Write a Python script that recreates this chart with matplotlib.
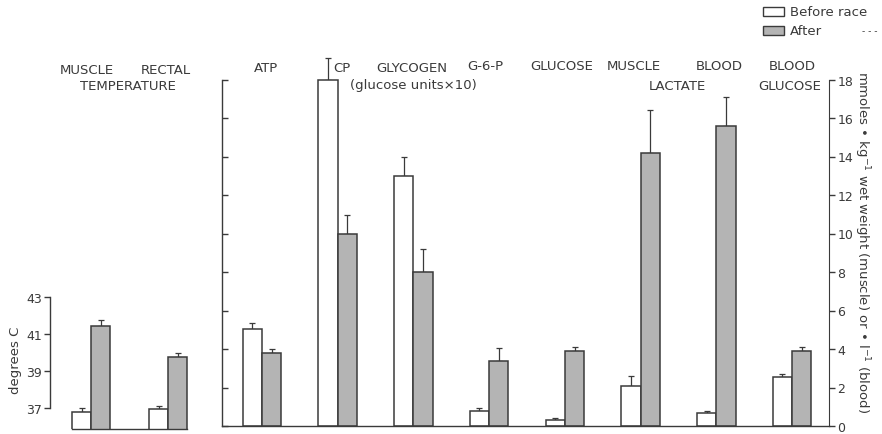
import matplotlib
matplotlib.use("Agg")
import matplotlib.pyplot as plt
from matplotlib.patches import Rectangle
import numpy as np

# ---- data ----
temp_sites = ["MUSCLE", "RECTAL"]
temp_before = [36.8, 36.95]
temp_before_err = [0.2, 0.17]
temp_after = [41.45, 39.74]
temp_after_err = [0.3, 0.23]
temp_ticks = [37, 39, 41, 43]

met_names = ["ATP", "CP", "GLYCOGEN", "G-6-P", "GLUCOSE",
             "MUSCLE LACTATE", "BLOOD LACTATE", "BLOOD GLUCOSE"]
met_before = [5.04, 18.0, 13.0, 0.78, 0.31, 2.08, 0.68, 2.55]
met_before_err = [0.31, 1.1, 1.0, 0.16, 0.11, 0.52, 0.10, 0.15]
met_after = [3.79, 10.0, 8.0, 3.38, 3.9, 14.2, 15.6, 3.9]
met_after_err = [0.21, 0.96, 1.2, 0.67, 0.2, 2.2, 1.5, 0.2]
met_ticks = list(range(0, 19, 2))

# ---- layout ----
W, H = 882, 435
INK = "#3a3a3a"
GREY = "#b4b4b4"
plt.rcParams["font.family"] = ["DejaVu Sans"]


def fx(x):
    return x / W


def fy(y):
    return (H - y) / H


fig = plt.figure(figsize=(W / 100, H / 100), dpi=100)


def draw_pairs(ax, before, b_err, after, a_err, w):
    x = np.arange(len(before))
    ax.bar(x - w / 2, before, w, color="white", edgecolor=INK, lw=1.1, zorder=2)
    ax.bar(x + w / 2, after, w, color=GREY, edgecolor=INK, lw=1.1, zorder=2)
    ax.errorbar(x - w / 2, before, yerr=[np.zeros(len(before)), b_err], fmt="none",
                ecolor=INK, elinewidth=0.9, capsize=2, capthick=0.9, zorder=1)
    ax.errorbar(x + w / 2, after, yerr=[np.zeros(len(after)), a_err], fmt="none",
                ecolor=INK, elinewidth=0.9, capsize=2, capthick=0.9, zorder=1)


# temperature panel
ax1 = fig.add_axes([fx(50), fy(430), fx(150), 140 / H])
w1 = 19 / 77
draw_pairs(ax1, temp_before, temp_before_err, temp_after, temp_after_err, w1)
ax1.set_xlim(-41 / 77, 1 + 32 / 77)
ax1.set_ylim(37 - 21 / 18.5, 37 + 119 / 18.5)
ax1.spines[["top", "right"]].set_visible(False)
ax1.spines["left"].set_bounds(37, 43)
ax1.spines["bottom"].set_bounds(-w1, 1 + w1)
for s in ax1.spines.values():
    s.set_color(INK)
    s.set_linewidth(1.0)
ax1.set_yticks(temp_ticks)
ax1.set_xticks([])
ax1.tick_params(axis="y", direction="out", length=4, width=1, color=INK,
                labelcolor=INK, labelsize=9, pad=2)

# metabolite panel
ax2 = fig.add_axes([fx(222), fy(427), fx(829 - 222), 372 / H])
w2 = 19.3 / 75.7
draw_pairs(ax2, met_before, met_before_err, met_after, met_after_err, w2)
ax2.set_xlim(-40 / 75.7, 7 + 37 / 75.7)
ax2.set_ylim(0, 372 / 19.25)
ax2.spines[["top", "right"]].set_visible(False)
ax2.spines["left"].set_bounds(0, 18)
for s in ax2.spines.values():
    s.set_color(INK)
    s.set_linewidth(1.0)
ax2.set_xticks([])
ax2.set_yticks(met_ticks)
ax2.tick_params(axis="y", direction="in", length=4, width=1, color=INK,
                labelleft=False)

ax3 = ax2.twinx()
ax3.set_ylim(ax2.get_ylim())
ax3.spines[["top", "left", "bottom"]].set_visible(False)
ax3.spines["right"].set_bounds(0, 18)
ax3.spines["right"].set_color(INK)
ax3.set_yticks(met_ticks)
ax3.tick_params(axis="y", direction="out", length=4, width=1, color=INK,
                labelcolor=INK, labelsize=9, pad=2)

# headers (text, x px, y px)
headers = [
    ("MUSCLE", 87, 70), ("RECTAL", 166, 70), ("TEMPERATURE", 128, 87),
    ("ATP", 266, 68), ("CP", 342, 68), ("GLYCOGEN", 412, 68),
    ("(glucose units\u00d710)", 413, 85), ("G-6-P", 485, 67),
    ("GLUCOSE", 562, 67), ("MUSCLE", 634, 67), ("BLOOD", 719, 67),
    ("LACTATE", 677, 86), ("BLOOD", 792, 67), ("GLUCOSE", 790, 86),
]
for txt, x, y in headers:
    fig.text(fx(x), fy(y), txt, ha="center", va="center", fontsize=9.5, color=INK)

fig.text(fx(15), fy(360), "degrees C", rotation=90, ha="center", va="center",
         fontsize=9.5, color=INK)
fig.text(fx(862), fy(242),
         "mmoles \u2022 kg$^{-1}$ wet weight (muscle) or \u2022 l$^{-1}$ (blood)",
         rotation=270, ha="center", va="center", fontsize=9.5, color=INK)

# legend
for (y, face, label) in [(8, "white", "Before race"), (27, GREY, "After")]:
    fig.add_artist(Rectangle((fx(763), fy(y + 9)), fx(21), 9 / H, facecolor=face,
                             edgecolor=INK, lw=1.0, transform=fig.transFigure))
    fig.text(fx(790), fy(y + 4.5), label, ha="left", va="center", fontsize=9.5,
             color=INK)
fig.text(fx(870), fy(32), "- - -", ha="center", va="center", fontsize=6.5, color=INK)

fig.savefig("out.png", dpi=100, facecolor="white")
